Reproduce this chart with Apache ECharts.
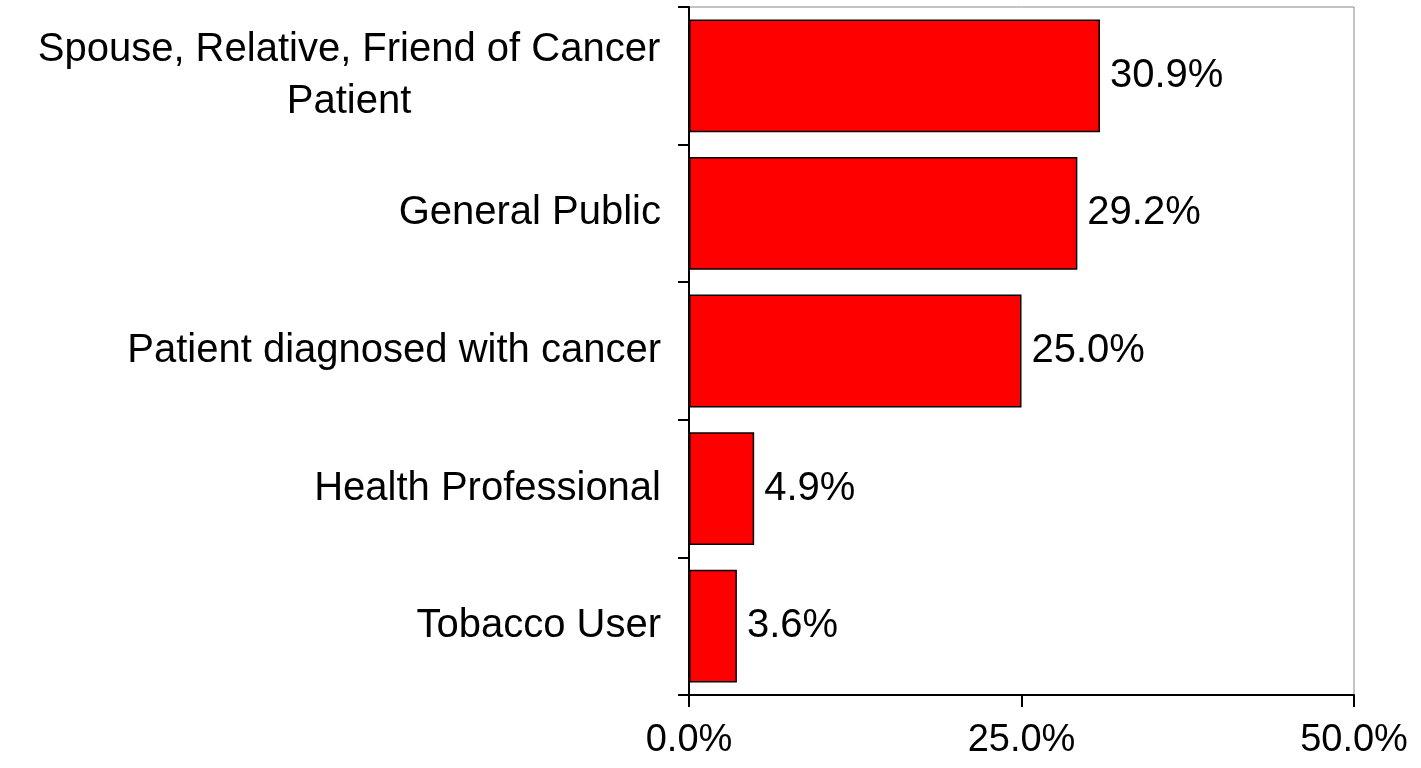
<!DOCTYPE html>
<html>
<head>
<meta charset="utf-8">
<script src="https://cdn.jsdelivr.net/npm/echarts@6/dist/echarts.min.js"></script>
<style>
  html, body { margin: 0; padding: 0; background: #fff; }
  #main { width: 1421px; height: 768px; }
</style>
</head>
<body>
<div id="main"></div>
<script>
// categories top to bottom
const categories = [
  "Spouse, Relative, Friend of Cancer\nPatient",
  "General Public",
  "Patient diagnosed with cancer",
  "Health Professional",
  "Tobacco User"
];
const shares = [30.9, 29.2, 25.0, 4.9, 3.6];
const xTicks = [0, 25, 50];

const font = "'Liberation Sans', Arial, sans-serif";
const chart = echarts.init(document.getElementById("main"));

const option = {
  animation: false,
  grid: {
    left: 689,
    right: 67,
    top: 7,
    bottom: 73,
    show: true,
    borderColor: "#888",
    borderWidth: 1
  },
  xAxis: {
    type: "value",
    min: xTicks[0],
    max: xTicks[xTicks.length - 1],
    interval: xTicks[1] - xTicks[0],
    splitLine: { show: false },
    axisLine: { show: true, lineStyle: { color: "#000", width: 2 } },
    axisTick: { show: true, length: 12, lineStyle: { color: "#000", width: 2 } },
    axisLabel: {
      color: "#000",
      fontFamily: font,
      fontSize: 38,
      margin: 27,
      formatter: (v) => v.toFixed(1) + "%"
    }
  },
  yAxis: {
    type: "category",
    inverse: true,
    data: categories,
    axisLine: { show: true, lineStyle: { color: "#000", width: 2 } },
    axisTick: { show: true, length: 11, lineStyle: { color: "#000", width: 2 } },
    axisLabel: {
      color: "#000",
      fontFamily: font,
      fontSize: 40,
      align: "right",
      margin: 28,
      // wrapped label: lines centred on each other, block kept against the axis
      formatter: (v) => {
        if (v.indexOf("\n") < 0) return v;
        return v.split("\n").map((s) => "{w|" + s + "}").join("\n");
      },
      rich: {
        w: {
          width: 624,
          align: "center",
          fontSize: 40,
          lineHeight: 52,
          fontFamily: font,
          color: "#000"
        }
      }
    }
  },
  series: [
    {
      type: "bar",
      data: shares,
      barCategoryGap: "18%",
      itemStyle: { color: "#ff0000", borderColor: "#000", borderWidth: 1.5 },
      label: {
        show: true,
        position: "right",
        distance: 10,
        color: "#000",
        fontFamily: font,
        fontSize: 40,
        formatter: (p) => p.value.toFixed(1) + "%"
      }
    }
  ]
};

chart.setOption(option);
</script>
</body>
</html>
